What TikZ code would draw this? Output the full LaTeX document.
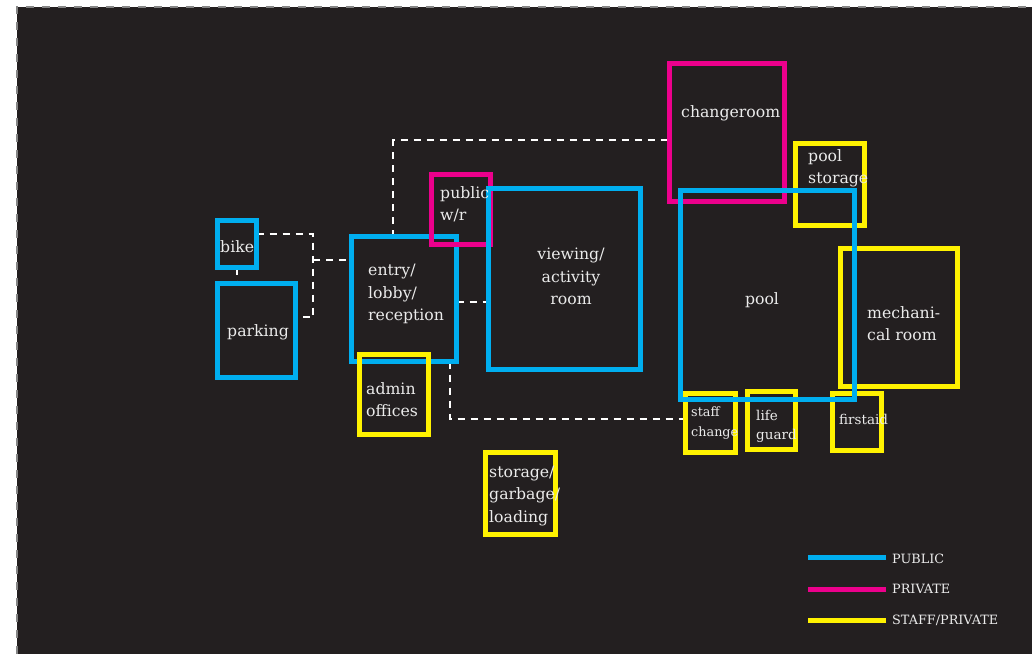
\documentclass[tikz,border=0pt]{standalone}
\usepackage{fontspec}
\setmainfont{DejaVu Serif}
\usetikzlibrary{backgrounds}
\definecolor{bg}{HTML}{231F20}
\definecolor{pub}{HTML}{00AEEF}
\definecolor{priv}{HTML}{EC008C}
\definecolor{staff}{HTML}{FFF200}
\definecolor{txt}{HTML}{EBEBEB}
\definecolor{frame}{HTML}{858585}
\tikzset{
  zone/.style={draw, rectangle, line width=5pt, inner sep=0pt, outer sep=0pt},
  pubzone/.style={zone, draw=pub},
  privzone/.style={zone, draw=priv},
  staffzone/.style={zone, draw=staff},
  link/.style={draw=white, line width=2.5pt, dash pattern=on 7pt off 6pt},
  lbl/.style={text=txt, inner sep=0pt, anchor=west, align=left, font=\fontsize{15.7}{22.5}\selectfont},
  smalllbl/.style={lbl, font=\fontsize{13.5}{19.5}\selectfont},
  leglbl/.style={text=txt, inner sep=0pt, anchor=west, font=\fontsize{12.8}{15}\selectfont},
  legline/.style={line width=5pt}
}
\begin{document}
\begin{tikzpicture}[x=1pt, y=-1pt]
\useasboundingbox (0,0) rectangle (1032,654);

% zones, in the reference stacking order
\path
  (237,244)     node[pubzone, minimum width=39pt, minimum height=47pt] (bike) {}
  (256.5,330.5) node[pubzone, minimum width=78pt, minimum height=94pt] (parking) {}
  (404,299)     node[pubzone, minimum width=105pt, minimum height=125pt] (entry) {}
  (394,394.5)   node[staffzone, minimum width=69pt, minimum height=80pt] (admin) {}
  (461,209.5)   node[privzone, minimum width=59pt, minimum height=70pt] (pubwr) {}
  (564.5,279)   node[pubzone, minimum width=152pt, minimum height=181pt] (viewing) {}
  (727,132.5)   node[privzone, minimum width=115pt, minimum height=138pt] (change) {}
  (830,184.5)   node[staffzone, minimum width=69pt, minimum height=82pt] (poolstor) {}
  (899,317.5)   node[staffzone, minimum width=117pt, minimum height=138pt] (mech) {}
  (710.5,423)   node[staffzone, minimum width=50pt, minimum height=59pt] (staffch) {}
  (771.5,420.5) node[staffzone, minimum width=48pt, minimum height=58pt] (life) {}
  (857,422)     node[staffzone, minimum width=49pt, minimum height=57pt] (first) {}
  (520.5,493.5) node[staffzone, minimum width=70pt, minimum height=82pt] (storage) {}
  (767.5,295)   node[pubzone, minimum width=174pt, minimum height=209pt] (pool) {};

% bend points of the connectors
\coordinate (k1) at (313,234);
\coordinate (k2) at (313,317);
\coordinate (k3) at (313,260);
\coordinate (k4) at (393,140);
\coordinate (k5) at (450,419);
\coordinate (k6) at (470,302);

\begin{pgfonlayer}{background}
\fill[bg] (17,7) rectangle (1032,654);
\draw[frame, line width=2pt, dash pattern=on 8pt off 8pt] (17,654) -- (17,6.5) -- (1032,6.5);
% connectors
\draw[link] (bike.east |- k1) -- (k1) -- (k2) -- (parking.east |- k2);
\draw[link] (k3) -- (entry.west |- k3);
\draw[link] (bike.south) -- (bike.south |- parking.north);
\draw[link] (entry.north -| k4) -- (k4) -- (change.west |- k4);
\draw[link] (entry.east |- k6) -- (viewing.west |- k6);
\draw[link] (entry.south -| k5) -- (k5) -- (staffch.west |- k5);
\end{pgfonlayer}

% labels
\node[lbl] (tbike) at (220,247) {bike};
\node[lbl] (tparking) at (227,332) {parking};
\node[lbl] (tentry) at (368,294) {entry/\\lobby/\\reception};
\node[lbl] (tadmin) at (366,399.5) {admin\\offices};
\node[lbl] (tpubwr) at (440,204.5) {public\\w/r};
\node[lbl, anchor=center, align=center] (tviewing) at (571,276.5) {viewing/\\activity\\room};
\node[lbl] (tchange) at (681,113.5) {changeroom};
\node[lbl] (tpoolstor) at (808,168.5) {pool\\storage};
\node[lbl, anchor=center] (tpool) at (762,300.5) {pool};
\node[lbl] (tmech) at (867,323.5) {mechani-\\cal room};
\node[lbl, font=\fontsize{12.8}{20}\selectfont] (tstaffch) at (691,423) {staff\\change};
\node[smalllbl] (tlife) at (756,426.5) {life\\guard};
\node[smalllbl] (tfirst) at (839,419) {firstaid};
\node[lbl] (tstorage) at (489,496) {storage/\\garbage/\\loading};

% legend
\node[leglbl] (lpub) at (892,559) {PUBLIC};
\node[leglbl] (lpriv) at (892,588.5) {PRIVATE};
\node[leglbl] (lstaff) at (892,620) {STAFF/PRIVATE};
\draw[legline, pub] ([xshift=-6pt]lpub.west |- 0,557) -- ++(-78,0);
\draw[legline, priv] ([xshift=-6pt]lpriv.west |- 0,589) -- ++(-78,0);
\draw[legline, staff] ([xshift=-6pt]lstaff.west |- 0,620) -- ++(-78,0);
\end{tikzpicture}
\end{document}
